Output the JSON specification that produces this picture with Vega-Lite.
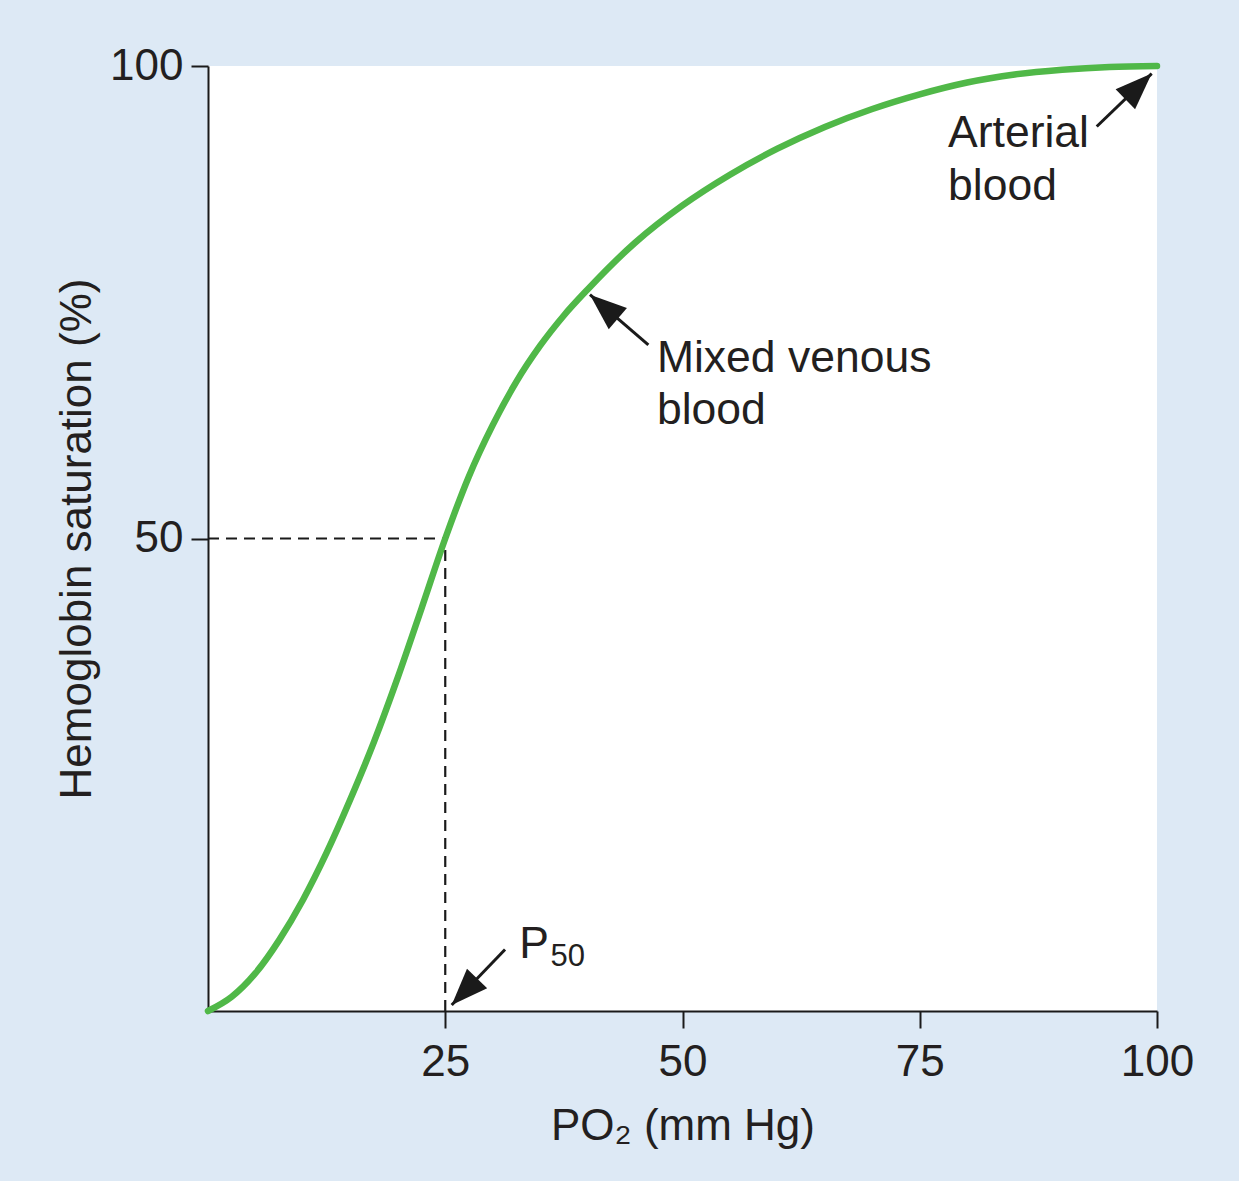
{
  "$schema": "https://vega.github.io/schema/vega-lite/v6.json",
  "autosize": "none",
  "padding": {"left": 208, "top": 66, "right": 82, "bottom": 170},
  "width": 949,
  "height": 945,
  "background": "#dde9f5",
  "view": {"fill": "white", "stroke": null},
  "config": {
    "font": "Liberation Sans",
    "axis": {
      "domainColor": "#1a1a1a",
      "domainWidth": 2,
      "tickColor": "#1a1a1a",
      "tickWidth": 2,
      "tickSize": 17,
      "labelFont": "Liberation Sans",
      "labelFontSize": 44,
      "labelColor": "#231f20",
      "labelFlush": false,
      "titleFont": "Liberation Sans",
      "titleFontSize": 44,
      "titleFontWeight": "normal",
      "titleColor": "#231f20",
      "grid": false
    }
  },
  "datasets": {
    "curve": [
      {"po2": 0, "sat": 0},
      {"po2": 2.5, "sat": 1.5},
      {"po2": 5, "sat": 4.0},
      {"po2": 7.5, "sat": 7.5},
      {"po2": 10, "sat": 11.75},
      {"po2": 12.5, "sat": 16.75},
      {"po2": 15, "sat": 22.4},
      {"po2": 17.5, "sat": 28.5},
      {"po2": 20, "sat": 35.3},
      {"po2": 22.5, "sat": 42.6},
      {"po2": 25, "sat": 50.0},
      {"po2": 27.5, "sat": 56.6},
      {"po2": 30, "sat": 62.0},
      {"po2": 32.5, "sat": 66.6},
      {"po2": 35, "sat": 70.4},
      {"po2": 37.5, "sat": 73.6},
      {"po2": 40, "sat": 76.35},
      {"po2": 45, "sat": 81.3},
      {"po2": 50, "sat": 85.25},
      {"po2": 55, "sat": 88.5},
      {"po2": 60, "sat": 91.25},
      {"po2": 65, "sat": 93.55},
      {"po2": 70, "sat": 95.45},
      {"po2": 75, "sat": 97.0},
      {"po2": 80, "sat": 98.25},
      {"po2": 85, "sat": 99.1},
      {"po2": 90, "sat": 99.6},
      {"po2": 95, "sat": 99.9},
      {"po2": 100, "sat": 100}
    ],
    "guides": [
      {"x": 0, "y": 50, "x2": 25, "y2": 50},
      {"x": 25, "y": 0, "x2": 25, "y2": 50}
    ],
    "arrows": [
      {"name": "venous", "tx": 46.4, "ty": 70.5, "hx": 40.25, "hy": 75.8, "angle": 310.7},
      {"name": "arterial", "tx": 93.65, "ty": 93.6, "hx": 99.44, "hy": 99.2, "angle": 45.8},
      {"name": "p50", "tx": 31.3, "ty": 6.5, "hx": 25.68, "hy": 0.63, "angle": 223.7}
    ],
    "labels": [
      {"text": "Arterial", "x": 77.98, "y": 91.4},
      {"text": "blood", "x": 77.98, "y": 85.8},
      {"text": "Mixed venous", "x": 47.3, "y": 67.6},
      {"text": "blood", "x": 47.3, "y": 62.1},
      {"text": "P", "x": 32.8, "y": 5.6}
    ],
    "subs": [
      {"text": "50", "x": 36.1, "y": 4.8}
    ]
  },
  "layer": [
    {
      "data": {"name": "guides"},
      "mark": {"type": "rule", "strokeDash": [11, 7], "strokeWidth": 2.2, "color": "#1a1a1a"},
      "encoding": {
        "x": {"field": "x", "type": "quantitative", "scale": {"domain": [0, 100], "nice": false}},
        "y": {"field": "y", "type": "quantitative", "scale": {"domain": [0, 100], "nice": false}},
        "x2": {"field": "x2"},
        "y2": {"field": "y2"}
      }
    },
    {
      "data": {"name": "curve"},
      "mark": {"type": "line", "interpolate": "monotone", "color": "#50b848", "strokeWidth": 6.5, "strokeCap": "round"},
      "encoding": {
        "x": {
          "field": "po2", "type": "quantitative",
          "scale": {"domain": [0, 100], "nice": false},
          "axis": {"values": [25, 50, 75, 100], "title": "PO₂ (mm Hg)", "labelPadding": 12, "titlePadding": 20}
        },
        "y": {
          "field": "sat", "type": "quantitative",
          "scale": {"domain": [0, 100], "nice": false},
          "axis": {"values": [50, 100], "title": "Hemoglobin saturation (%)", "labelPadding": 8, "titlePadding": 10}
        }
      }
    },
    {
      "data": {"name": "arrows"},
      "mark": {"type": "rule", "strokeWidth": 3, "color": "#1a1a1a"},
      "encoding": {
        "x": {"field": "tx", "type": "quantitative"},
        "y": {"field": "ty", "type": "quantitative"},
        "x2": {"field": "hx"},
        "y2": {"field": "hy"}
      }
    },
    {
      "data": {"name": "arrows"},
      "mark": {"type": "point", "shape": "M0,0L0.38,1L-0.38,1Z", "filled": true, "color": "#1a1a1a", "opacity": 1, "size": 5400},
      "encoding": {
        "x": {"field": "hx", "type": "quantitative"},
        "y": {"field": "hy", "type": "quantitative"},
        "angle": {"field": "angle", "type": "quantitative", "scale": null}
      }
    },
    {
      "data": {"name": "labels"},
      "mark": {"type": "text", "align": "left", "baseline": "alphabetic", "fontSize": 44.5, "color": "#231f20", "font": "Liberation Sans"},
      "encoding": {
        "x": {"field": "x", "type": "quantitative"},
        "y": {"field": "y", "type": "quantitative"},
        "text": {"field": "text"}
      }
    },
    {
      "data": {"name": "subs"},
      "mark": {"type": "text", "align": "left", "baseline": "alphabetic", "fontSize": 31, "color": "#231f20", "font": "Liberation Sans"},
      "encoding": {
        "x": {"field": "x", "type": "quantitative"},
        "y": {"field": "y", "type": "quantitative"},
        "text": {"field": "text"}
      }
    }
  ]
}
